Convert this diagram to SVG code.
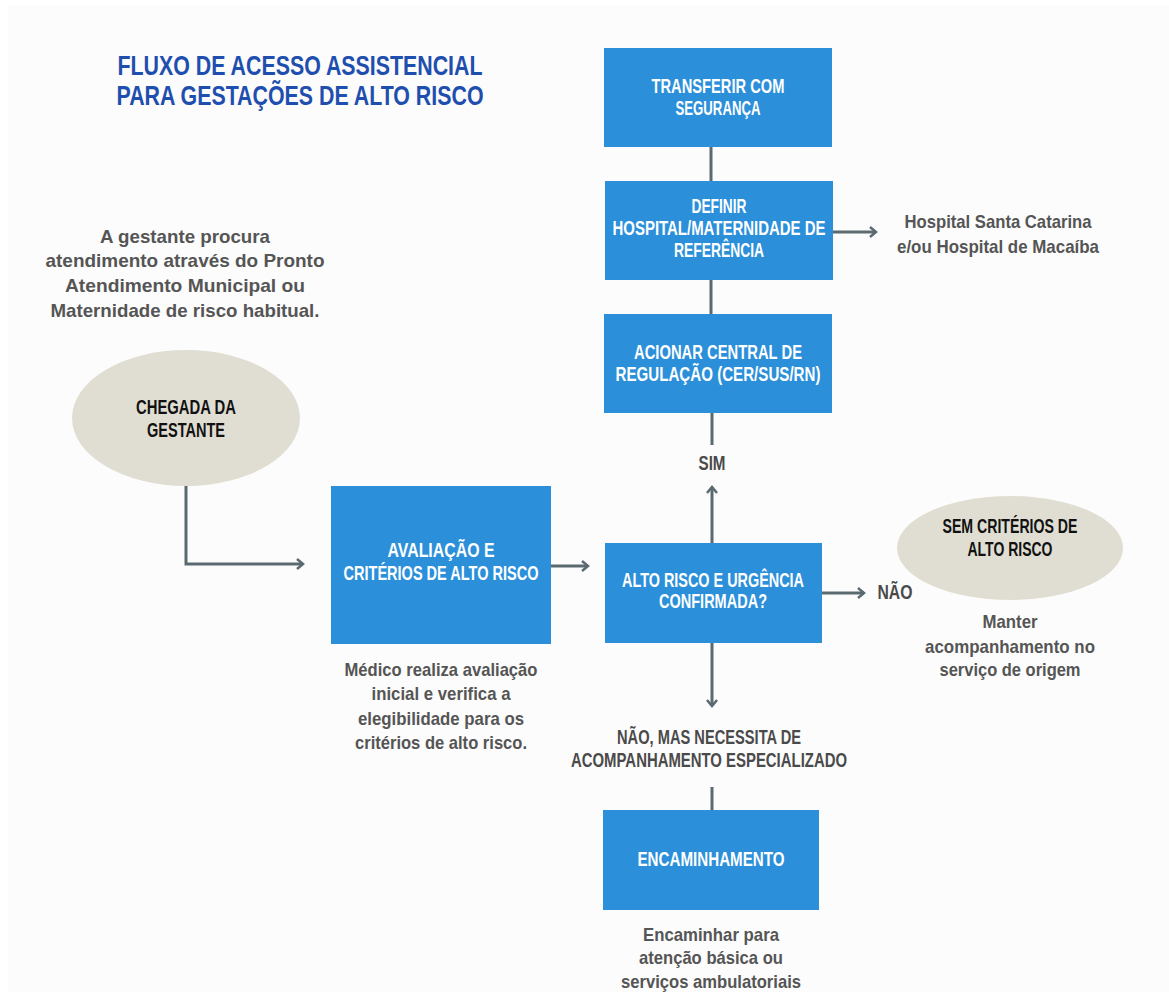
<svg xmlns="http://www.w3.org/2000/svg" width="1169" height="992" viewBox="0 0 1169 992">
<defs>
<marker id="arr" markerUnits="userSpaceOnUse" markerWidth="14" markerHeight="14" refX="8" refY="6" orient="auto">
<path d="M2,1 L8,6 L2,11" fill="none" stroke="#5b6a70" stroke-width="2.5"/>
</marker>
<style>
.bg{fill:#fcfcfc}
.box{fill:#2b8fda}
.ell{fill:#e0ded2}
.conn{fill:none;stroke:#5b6a70;stroke-width:3}
.title{font-family:"Liberation Sans",Arial,sans-serif;font-weight:bold;font-size:28px;fill:#1f4fae;text-anchor:middle}
.wt{font-family:"Liberation Sans",Arial,sans-serif;font-weight:bold;font-size:20px;fill:#ffffff;text-anchor:middle}
.bk{font-family:"Liberation Sans",Arial,sans-serif;font-weight:bold;font-size:20px;fill:#111111;text-anchor:middle}
.gr{font-family:"Liberation Sans",Arial,sans-serif;font-weight:bold;font-size:19px;fill:#555555;text-anchor:middle}
.lb{font-family:"Liberation Sans",Arial,sans-serif;font-weight:bold;font-size:20px;fill:#4a4a4a;text-anchor:middle}
</style>
</defs>
<rect x="0" y="0" width="1169" height="992" fill="#ffffff"/>
<rect class="bg" x="8" y="5" width="1161" height="987"/>

<g id="title">
<text class="title" x="300" y="75" textLength="365" lengthAdjust="spacingAndGlyphs">FLUXO DE ACESSO ASSISTENCIAL</text>
<text class="title" x="300" y="105" textLength="367" lengthAdjust="spacingAndGlyphs">PARA GESTAÇÕES DE ALTO RISCO</text>
</g>

<g id="connectors">
<path class="conn" d="M186,486 V564 H303" marker-end="url(#arr)"/>
<path class="conn" d="M551,566 H588" marker-end="url(#arr)"/>
<path class="conn" d="M712,543 V487" marker-end="url(#arr)"/>
<path class="conn" d="M822,593 H864" marker-end="url(#arr)"/>
<path class="conn" d="M712,643 V706" marker-end="url(#arr)"/>
<path class="conn" d="M712,413 V445"/>
<path class="conn" d="M711,147 V181"/>
<path class="conn" d="M711,280 V314"/>
<path class="conn" d="M833,232 H876" marker-end="url(#arr)"/>
<path class="conn" d="M712,787 V810"/>
</g>

<g id="note-gestante">
<text class="gr" x="185" y="243" textLength="170" lengthAdjust="spacingAndGlyphs">A gestante procura</text>
<text class="gr" x="185" y="267" textLength="279" lengthAdjust="spacingAndGlyphs">atendimento através do Pronto</text>
<text class="gr" x="185" y="292" textLength="240" lengthAdjust="spacingAndGlyphs">Atendimento Municipal ou</text>
<text class="gr" x="185" y="317" textLength="269" lengthAdjust="spacingAndGlyphs">Maternidade de risco habitual.</text>
</g>

<g id="chegada">
<ellipse class="ell" cx="186" cy="418" rx="114" ry="68"/>
<text class="bk" x="186" y="414" textLength="100" lengthAdjust="spacingAndGlyphs">CHEGADA DA</text>
<text class="bk" x="186" y="437" textLength="78" lengthAdjust="spacingAndGlyphs">GESTANTE</text>
</g>

<g id="transferir">
<rect class="box" x="604" y="48" width="228" height="99"/>
<text class="wt" x="718" y="93" textLength="133" lengthAdjust="spacingAndGlyphs">TRANSFERIR COM</text>
<text class="wt" x="718" y="115" textLength="85" lengthAdjust="spacingAndGlyphs">SEGURANÇA</text>
</g>

<g id="definir">
<rect class="box" x="605" y="181" width="228" height="99"/>
<text class="wt" x="719" y="213" textLength="55" lengthAdjust="spacingAndGlyphs">DEFINIR</text>
<text class="wt" x="719" y="235" textLength="213" lengthAdjust="spacingAndGlyphs">HOSPITAL/MATERNIDADE DE</text>
<text class="wt" x="719" y="257" textLength="90" lengthAdjust="spacingAndGlyphs">REFERÊNCIA</text>
</g>

<g id="hospitais">
<text class="gr" x="998" y="228" textLength="187" lengthAdjust="spacingAndGlyphs">Hospital Santa Catarina</text>
<text class="gr" x="998" y="253" textLength="202" lengthAdjust="spacingAndGlyphs">e/ou Hospital de Macaíba</text>
</g>

<g id="acionar">
<rect class="box" x="604" y="314" width="228" height="99"/>
<text class="wt" x="718" y="359" textLength="168" lengthAdjust="spacingAndGlyphs">ACIONAR CENTRAL DE</text>
<text class="wt" x="718" y="381" textLength="205" lengthAdjust="spacingAndGlyphs">REGULAÇÃO (CER/SUS/RN)</text>
</g>

<g id="label-sim">
<text class="lb" x="712" y="470" textLength="27" lengthAdjust="spacingAndGlyphs">SIM</text>
</g>

<g id="avaliacao">
<rect class="box" x="331" y="486" width="220" height="158"/>
<text class="wt" x="441" y="557" textLength="107" lengthAdjust="spacingAndGlyphs">AVALIAÇÃO E</text>
<text class="wt" x="441" y="580" textLength="195" lengthAdjust="spacingAndGlyphs">CRITÉRIOS DE ALTO RISCO</text>
</g>

<g id="note-medico">
<text class="gr" x="441" y="676" textLength="193" lengthAdjust="spacingAndGlyphs">Médico realiza avaliação</text>
<text class="gr" x="441" y="700" textLength="139" lengthAdjust="spacingAndGlyphs">inicial e verifica a</text>
<text class="gr" x="441" y="725" textLength="166" lengthAdjust="spacingAndGlyphs">elegibilidade para os</text>
<text class="gr" x="441" y="749" textLength="172" lengthAdjust="spacingAndGlyphs">critérios de alto risco.</text>
</g>

<g id="alto-risco">
<rect class="box" x="605" y="543" width="217" height="100"/>
<text class="wt" x="713" y="587" textLength="182" lengthAdjust="spacingAndGlyphs">ALTO RISCO E URGÊNCIA</text>
<text class="wt" x="713" y="608" textLength="108" lengthAdjust="spacingAndGlyphs">CONFIRMADA?</text>
</g>

<g id="label-nao">
<text class="lb" x="895" y="599" textLength="35" lengthAdjust="spacingAndGlyphs">NÃO</text>
</g>

<g id="sem-criterios">
<ellipse class="ell" cx="1010" cy="548" rx="113" ry="52"/>
<text class="bk" x="1010" y="533" textLength="135" lengthAdjust="spacingAndGlyphs">SEM CRITÉRIOS DE</text>
<text class="bk" x="1010" y="556" textLength="85" lengthAdjust="spacingAndGlyphs">ALTO RISCO</text>
</g>

<g id="note-manter">
<text class="gr" x="1010" y="628" textLength="55" lengthAdjust="spacingAndGlyphs">Manter</text>
<text class="gr" x="1010" y="653" textLength="170" lengthAdjust="spacingAndGlyphs">acompanhamento no</text>
<text class="gr" x="1010" y="676" textLength="141" lengthAdjust="spacingAndGlyphs">serviço de origem</text>
</g>

<g id="label-nao-mas">
<text class="lb" x="709" y="744" textLength="184" lengthAdjust="spacingAndGlyphs">NÃO, MAS NECESSITA DE</text>
<text class="lb" x="709" y="767" textLength="276" lengthAdjust="spacingAndGlyphs">ACOMPANHAMENTO ESPECIALIZADO</text>
</g>

<g id="encaminhamento">
<rect class="box" x="603" y="810" width="216" height="100"/>
<text class="wt" x="711" y="866" textLength="147" lengthAdjust="spacingAndGlyphs">ENCAMINHAMENTO</text>
</g>

<g id="note-encaminhar">
<text class="gr" x="711" y="941" textLength="136" lengthAdjust="spacingAndGlyphs">Encaminhar para</text>
<text class="gr" x="711" y="964" textLength="144" lengthAdjust="spacingAndGlyphs">atenção básica ou</text>
<text class="gr" x="711" y="988" textLength="180" lengthAdjust="spacingAndGlyphs">serviços ambulatoriais</text>
</g>
</svg>
